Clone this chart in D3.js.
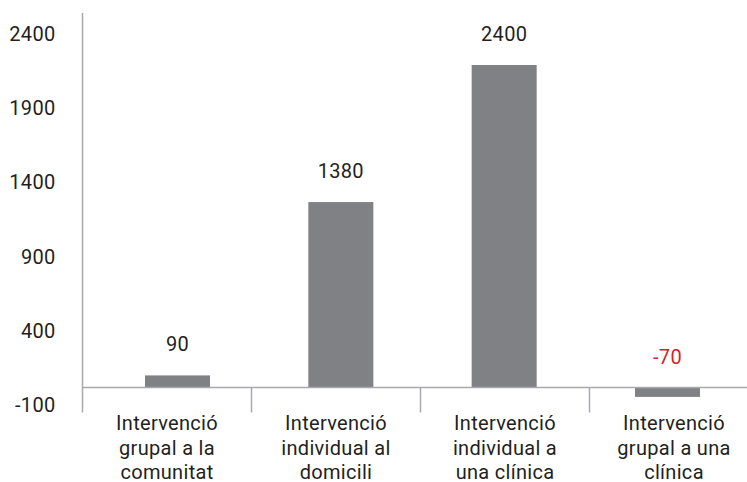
<!DOCTYPE html>
<html>
<head>
<meta charset="utf-8">
<script src="https://cdn.jsdelivr.net/npm/d3@7"></script>
<style>
  html, body { margin: 0; padding: 0; background: #fff; }
  svg text { font-family: Roboto, "DejaVu Sans", sans-serif; }
</style>
</head>
<body>
<svg id="chart" width="747" height="482"></svg>
<script>
const categories = [
  ["Intervenció", "grupal a la", "comunitat"],
  ["Intervenció", "individual al", "domicili"],
  ["Intervenció", "individual a", "una clínica"],
  ["Intervenció", "grupal a una", "clínica"]
];
const values = [90, 1380, 2400, -70];
const valueLabels = ["90", "1380", "2400", "-70"];
const tickLabels = [-100, 400, 900, 1400, 1900, 2400];

const svg = d3.select("#chart");
const ids = categories.map((c, i) => i);

const textColor = "#231f20";
const axisColor = "#a7a9ac";
const barColor = "#808184";
const negColor = "#d2232a";

// scales
const xCat = d3.scaleBand().domain(ids).range([82.5, 758.5]).padding(0);
const xBar = d3.scaleBand().domain(ids).range([145, 700]).paddingInner(0.602).paddingOuter(0);
const yBar = d3.scaleLinear().domain([0, 2400]).range([387.5, 65]);
const yAxisScale = d3.scaleLinear().domain([-100, 2400]).range([405, 34.2]);

// y axis labels
const yAxis = d3.axisLeft(yAxisScale)
  .tickValues(tickLabels)
  .tickFormat(d => String(d))
  .tickSizeInner(0).tickSizeOuter(0).tickPadding(27);
const gy = svg.append("g").attr("transform", "translate(82.5,0)").call(yAxis);
gy.select(".domain").remove();
gy.selectAll("text")
  .attr("fill", textColor)
  .style("font-size", "20px")
  .style("letter-spacing", "0.3px");

// vertical axis line
svg.append("line")
  .attr("x1", 82.5).attr("x2", 82.5)
  .attr("y1", 13).attr("y2", 412.5)
  .attr("stroke", axisColor).attr("stroke-width", 1.5);

// bars
svg.append("g").selectAll("rect")
  .data(values)
  .join("rect")
  .attr("x", (d, i) => xBar(i))
  .attr("width", xBar.bandwidth())
  .attr("y", d => yBar(Math.max(d, 0)))
  .attr("height", d => Math.abs(yBar(d) - yBar(0)))
  .attr("fill", barColor);

// baseline
svg.append("line")
  .attr("x1", 82.5).attr("x2", 747)
  .attr("y1", yBar(0)).attr("y2", yBar(0))
  .attr("stroke", axisColor).attr("stroke-width", 1.5);

// category dividers
svg.append("g").selectAll("line")
  .data(ids.slice(1))
  .join("line")
  .attr("x1", d => xCat(d)).attr("x2", d => xCat(d))
  .attr("y1", yBar(0)).attr("y2", 412.5)
  .attr("stroke", axisColor).attr("stroke-width", 1.5);

// value labels
svg.append("g").selectAll("text")
  .data(values)
  .join("text")
  .attr("x", (d, i) => xBar(i) + xBar.bandwidth() / 2)
  .attr("y", d => yBar(Math.max(d, 0)) - 24)
  .attr("text-anchor", "middle")
  .attr("fill", d => d < 0 ? negColor : textColor)
  .style("font-size", "20px")
  .style("letter-spacing", "0.3px")
  .text((d, i) => valueLabels[i]);

// category labels
const catG = svg.append("g").selectAll("text")
  .data(categories)
  .join("text")
  .attr("text-anchor", "middle")
  .attr("fill", textColor)
  .style("font-size", "20px")
  .style("letter-spacing", "0.3px");
catG.selectAll("tspan")
  .data((d, i) => d.map(line => ({ line, i })))
  .join("tspan")
  .attr("x", d => xCat(d.i) + xCat.bandwidth() / 2)
  .attr("y", (d, j) => 430 + j * 24.5)
  .text(d => d.line);
</script>
</body>
</html>
